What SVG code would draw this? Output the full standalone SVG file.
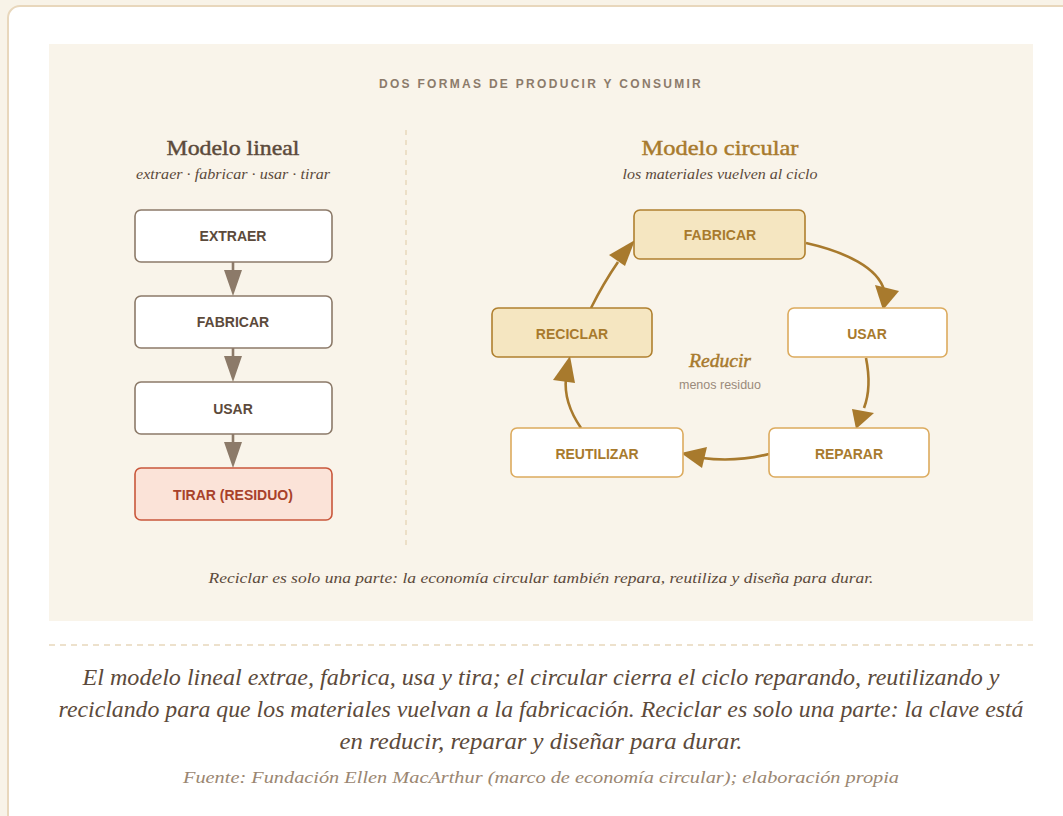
<svg xmlns="http://www.w3.org/2000/svg" width="1063" height="816" viewBox="0 0 1063 816">
  <style>
    .serif { font-family: "Liberation Serif", "DejaVu Serif", serif; }
    .sans { font-family: "Liberation Sans", Arial, sans-serif; }
    .heavy { stroke: currentColor; stroke-width: 0.45; }
    .lbox { fill: #ffffff; stroke: #8c7a69; stroke-width: 1.6; }
    .lwaste { fill: #fbe3d8; stroke: #c9573b; stroke-width: 1.6; }
    .cfill { fill: #f5e6c1; stroke: #b0802f; stroke-width: 1.6; }
    .cwhite { fill: #ffffff; stroke: #dcab5e; stroke-width: 1.6; }
    .ltxt { font-family: "Liberation Sans", Arial, sans-serif; font-weight: bold; font-size: 14px; fill: #5c4a3b; text-anchor: middle; }
    .ctxt { font-family: "Liberation Sans", Arial, sans-serif; font-weight: bold; font-size: 14px; fill: #a87a2d; text-anchor: middle; }
    .flow { fill: none; stroke: #a87a2d; stroke-width: 2.6; }
    .lflow { stroke: #8c7a69; stroke-width: 2.6; }
  </style>

  <!-- page and card -->
  <rect x="0" y="0" width="1063" height="816" fill="#f8f3e8"/>
  <rect x="8" y="6" width="1080" height="830" rx="12" fill="#ffffff" stroke="#e8d7bc" stroke-width="2"/>
  <rect x="49" y="44" width="984" height="577" fill="#f9f4ea"/>

  <text x="541" y="88" class="sans" font-size="12" font-weight="bold" fill="#8c7b6b" text-anchor="middle" letter-spacing="2.3">DOS FORMAS DE PRODUCIR Y CONSUMIR</text>

  <!-- column divider -->
  <line x1="406" y1="130" x2="406" y2="546" stroke="#e8d7bc" stroke-width="1.5" stroke-dasharray="5,5"/>

  <!-- linear model headings -->
  <text x="233" y="155" class="serif heavy" font-size="22" fill="#5c4a3b" color="#5c4a3b" text-anchor="middle" textLength="133" lengthAdjust="spacingAndGlyphs">Modelo lineal</text>
  <text x="233" y="179" class="serif" font-size="14.5" font-style="italic" fill="#5c4a3b" text-anchor="middle" textLength="194" lengthAdjust="spacingAndGlyphs">extraer · fabricar · usar · tirar</text>

  <!-- circular model headings -->
  <text x="720" y="155" class="serif heavy" font-size="22" fill="#a87a2d" color="#a87a2d" text-anchor="middle" textLength="157" lengthAdjust="spacingAndGlyphs">Modelo circular</text>
  <text x="720" y="179" class="serif" font-size="14.5" font-style="italic" fill="#5c4a3b" text-anchor="middle" textLength="195" lengthAdjust="spacingAndGlyphs">los materiales vuelven al ciclo</text>

  <!-- connectors -->
  <g id="connectors">
    <!-- linear chain -->
    <line x1="233" y1="262" x2="233" y2="272" class="lflow"/>
    <path d="M224,270 L242,270 L233,296 z" fill="#8c7a69"/>
    <line x1="233" y1="348" x2="233" y2="358" class="lflow"/>
    <path d="M224,356 L242,356 L233,382 z" fill="#8c7a69"/>
    <line x1="233" y1="434" x2="233" y2="444" class="lflow"/>
    <path d="M224,442 L242,442 L233,468 z" fill="#8c7a69"/>

    <!-- circular loop -->
    <path d="M806,243 C846,252 878,268 884,290" class="flow"/>
    <path d="M875,285 L899,291 L883,310 z" fill="#a87a2d"/>

    <path d="M866,358 C870,378 869,395 864,408" class="flow"/>
    <path d="M852,409 L874,413 L856,429 z" fill="#a87a2d"/>

    <path d="M769,454 C745,460 725,461 702,458" class="flow"/>
    <path d="M707,447 L702,468 L681,453 z" fill="#a87a2d"/>

    <path d="M581,428 C570,412 564,396 566,378" class="flow"/>
    <path d="M553,380 L575,383 L570,356 z" fill="#a87a2d"/>

    <path d="M591,308 C600,290 609,275 618,262" class="flow"/>
    <path d="M609,255 L625,266 L635,240 z" fill="#a87a2d"/>
  </g>

  <!-- linear nodes -->
  <g id="lin-extraer">
    <rect x="135" y="210" width="197" height="52" rx="6" class="lbox"/>
    <text x="233" y="241" class="ltxt">EXTRAER</text>
  </g>
  <g id="lin-fabricar">
    <rect x="135" y="296" width="197" height="52" rx="6" class="lbox"/>
    <text x="233" y="327" class="ltxt">FABRICAR</text>
  </g>
  <g id="lin-usar">
    <rect x="135" y="382" width="197" height="52" rx="6" class="lbox"/>
    <text x="233" y="414" class="ltxt">USAR</text>
  </g>
  <g id="lin-tirar">
    <rect x="135" y="468" width="197" height="52" rx="6" class="lwaste"/>
    <text x="233" y="500" class="ltxt" style="fill:#a8412a">TIRAR (RESIDUO)</text>
  </g>

  <!-- circular nodes -->
  <g id="circ-fabricar">
    <rect x="634" y="210" width="171" height="49" rx="6" class="cfill"/>
    <text x="720" y="240" class="ctxt">FABRICAR</text>
  </g>
  <g id="circ-usar">
    <rect x="788" y="308" width="159" height="49" rx="6" class="cwhite"/>
    <text x="867" y="339" class="ctxt">USAR</text>
  </g>
  <g id="circ-reparar">
    <rect x="769" y="428" width="160" height="49" rx="6" class="cwhite"/>
    <text x="849" y="459" class="ctxt">REPARAR</text>
  </g>
  <g id="circ-reutilizar">
    <rect x="511" y="428" width="172" height="49" rx="6" class="cwhite"/>
    <text x="597" y="459" class="ctxt">REUTILIZAR</text>
  </g>
  <g id="circ-reciclar">
    <rect x="492" y="308" width="160" height="49" rx="6" class="cfill"/>
    <text x="572" y="339" class="ctxt">RECICLAR</text>
  </g>

  <!-- centre of the loop -->
  <text x="720" y="367" class="serif heavy" font-size="18" font-style="italic" fill="#a87a2d" color="#a87a2d" text-anchor="middle" textLength="62" lengthAdjust="spacingAndGlyphs">Reducir</text>
  <text x="720" y="389" class="sans" font-size="12.5" fill="#9a8a7b" text-anchor="middle">menos residuo</text>

  <text x="541" y="583" class="serif" font-size="15.5" font-style="italic" fill="#5c4a3b" text-anchor="middle" textLength="665" lengthAdjust="spacingAndGlyphs">Reciclar es solo una parte: la economía circular también repara, reutiliza y diseña para durar.</text>

  <!-- footer -->
  <line x1="49" y1="645" x2="1033" y2="645" stroke="#e8d7bc" stroke-width="1.5" stroke-dasharray="6,5"/>
  <g class="serif" font-style="italic" fill="#5c4a3b" text-anchor="middle" font-size="22.5">
    <text x="541" y="685" textLength="917" lengthAdjust="spacingAndGlyphs">El modelo lineal extrae, fabrica, usa y tira; el circular cierra el ciclo reparando, reutilizando y</text>
    <text x="541" y="717" textLength="965" lengthAdjust="spacingAndGlyphs">reciclando para que los materiales vuelvan a la fabricación. Reciclar es solo una parte: la clave está</text>
    <text x="541" y="749" textLength="403" lengthAdjust="spacingAndGlyphs">en reducir, reparar y diseñar para durar.</text>
  </g>
  <text x="541" y="783" class="serif" font-size="17" font-style="italic" fill="#9a8671" text-anchor="middle" textLength="716" lengthAdjust="spacingAndGlyphs">Fuente: Fundación Ellen MacArthur (marco de economía circular); elaboración propia</text>
</svg>
